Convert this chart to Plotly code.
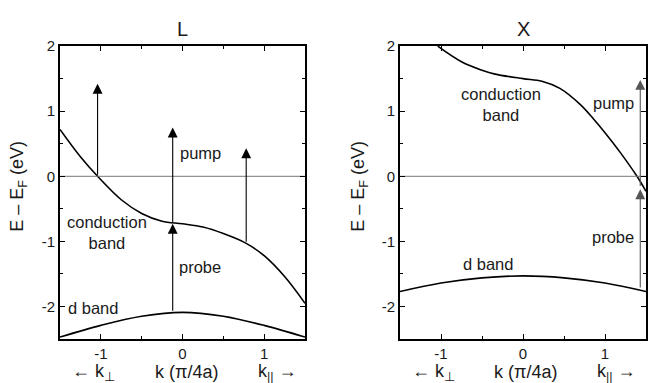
import plotly.graph_objects as go

# ---- data ----
# L point: conduction band and d band
L_cb_k = [-1.5, -1.25, -1.04, -0.75, -0.5, -0.25, 0.0, 0.25, 0.5, 0.78, 1.0, 1.25, 1.5]
L_cb_E = [0.72, 0.3, 0.0, -0.36, -0.57, -0.69, -0.73, -0.78, -0.88, -1.03, -1.22, -1.54, -1.95]
L_d_k = [-1.5, -1.0, -0.5, 0.0, 0.5, 1.0, 1.5]
L_d_E = [-2.47, -2.29, -2.15, -2.09, -2.15, -2.29, -2.47]

# X point
X_cb_k = [-1.04, -0.75, -0.5, -0.34, 0.0, 0.23, 0.45, 0.7, 0.86, 1.0, 1.19, 1.39, 1.5]
X_cb_E = [2.0, 1.76, 1.63, 1.57, 1.5, 1.46, 1.35, 1.1, 0.88, 0.67, 0.36, 0.0, -0.23]
X_d_k = [-1.5, -1.0, -0.5, 0.0, 0.5, 1.0, 1.5]
X_d_E = [-1.77, -1.64, -1.56, -1.53, -1.56, -1.64, -1.77]

# transition arrows: k, start energy, end energy
L_arrow_k = [-1.04, -0.12, -0.12, 0.78]
L_arrow_E0 = [0.0, -2.09, -0.73, -1.03]
L_arrow_E1 = [1.42, -0.73, 0.75, 0.43]
X_arrow_k = [1.43, 1.43]
X_arrow_E0 = [-1.73, -0.17]
X_arrow_E1 = [-0.2, 1.48]

panel_titles = ["L", "X"]
x_ticks = [-1, 0, 1]
y_ticks = [-2, -1, 0, 1, 2]

FONT = "Liberation Sans, Arial, sans-serif"
TXT = "#1a1a1a"
W, H = 650, 383
PANELS = [(60, 305), (400, 646)]  # pixel extents of the two plot areas


def px_to_paper_x(p):
    return p / W


def kx_to_paper(k, panel):
    a, b = PANELS[panel]
    return (a + (k + 1.5) * (b - a) / 3.0) / W


fig = go.Figure()

for k, E, xa, ya in [(L_cb_k, L_cb_E, "x", "y"), (L_d_k, L_d_E, "x", "y"),
                     (X_cb_k, X_cb_E, "x2", "y2"), (X_d_k, X_d_E, "x2", "y2")]:
    fig.add_trace(go.Scatter(x=k, y=E, xaxis=xa, yaxis=ya, mode="lines",
                             line=dict(color="black", width=1.6, shape="spline", smoothing=1.0),
                             showlegend=False, hoverinfo="skip"))

# Fermi level lines
for xa, ya in [("x", "y"), ("x2", "y2")]:
    fig.add_trace(go.Scatter(x=[-1.5, 1.5], y=[0, 0], xaxis=xa, yaxis=ya, mode="lines",
                             line=dict(color="#777777", width=1), showlegend=False,
                             hoverinfo="skip"))

ann = []
for k, e0, e1 in zip(L_arrow_k, L_arrow_E0, L_arrow_E1):
    ann.append(dict(x=k, y=e1, ax=k, ay=e0, xref="x", yref="y", axref="x", ayref="y",
                    text="", showarrow=True, arrowhead=2, arrowsize=1.8, arrowwidth=1.1,
                    arrowcolor="black", standoff=0, startstandoff=0))
for k, e0, e1 in zip(X_arrow_k, X_arrow_E0, X_arrow_E1):
    ann.append(dict(x=k, y=e1, ax=k, ay=e0, xref="x2", yref="y2", axref="x2", ayref="y2",
                    text="", showarrow=True, arrowhead=2, arrowsize=1.8, arrowwidth=1.1,
                    arrowcolor="#555555", standoff=0, startstandoff=0))


def label(text, x, y, xr, yr, size=16, **kw):
    d = dict(text=text, x=x, y=y, xref=xr, yref=yr, showarrow=False,
             xanchor="center", yanchor="middle",
             font=dict(family=FONT, size=size, color=TXT))
    d.update(kw)
    ann.append(d)


# labels in L panel
label("pump", 0.22, 0.36, "x", "y", size=16.5)
label("probe", 0.22, -1.4, "x", "y", size=16.5)
label("conduction<br>band", -0.93, -0.86, "x", "y", size=16.5)
label("d band", -1.1, -2.03, "x", "y", size=16.5)
# labels in X panel
label("conduction<br>band", -0.27, 1.1, "x2", "y2", size=16.5)
label("pump", 1.1, 1.12, "x2", "y2", size=16.5)
label("probe", 1.1, -0.94, "x2", "y2", size=16.5)
label("d band", -0.43, -1.35, "x2", "y2", size=16.5)

# panel titles
for i, t in enumerate(panel_titles):
    label(t, kx_to_paper(0, i), (H - 20) / H, "paper", "paper", size=20)

# bottom labels
for i, pos in enumerate([[-1.09, 0.05, 1.16], [-1.09, 0.03, 1.14]]):
    yb = (H - 372) / H
    label("← k<sub>⊥</sub>", kx_to_paper(pos[0], i), yb, "paper", "paper", size=18)
    label("k (π/4a)", kx_to_paper(pos[1], i), yb, "paper", "paper", size=18)
    label("k<sub>||</sub> →", kx_to_paper(pos[2], i), yb, "paper", "paper", size=18)

# y titles
for xp in [19, 360]:
    label("E – E<sub>F</sub> (eV)", px_to_paper_x(xp), (H - 182) / H, "paper", "paper",
          size=18, textangle=-90)

axis_common = dict(showline=True, linecolor="black", linewidth=1.6, mirror="allticks",
                   ticks="inside", ticklen=5, tickwidth=1.3, tickcolor="black",
                   showgrid=False, zeroline=False,
                   tickfont=dict(family=FONT, size=15, color=TXT),
                   minor=dict(ticks="inside", ticklen=3, tickwidth=1.1, tickcolor="black",
                              dtick=0.5, showgrid=False))

ydom = [45 / H, 345 / H]
fig.update_layout(
    width=W, height=H, margin=dict(l=0, r=0, t=0, b=0),
    plot_bgcolor="white", paper_bgcolor="white", showlegend=False,
    xaxis=dict(domain=[PANELS[0][0] / W, PANELS[0][1] / W], range=[-1.5, 1.5],
               tickvals=x_ticks, ticktext=[str(v) for v in x_ticks], anchor="y",
               **axis_common),
    yaxis=dict(domain=ydom, range=[-2.5, 2], tickvals=y_ticks,
               ticktext=[str(v) for v in y_ticks], anchor="x", **axis_common),
    xaxis2=dict(domain=[PANELS[1][0] / W, PANELS[1][1] / W], range=[-1.5, 1.5],
                tickvals=x_ticks, ticktext=[str(v) for v in x_ticks], anchor="y2",
                **axis_common),
    yaxis2=dict(domain=ydom, range=[-2.5, 2], tickvals=y_ticks,
                ticktext=[str(v) for v in y_ticks], anchor="x2", **axis_common),
    annotations=ann,
)

fig.write_html("out.html")
